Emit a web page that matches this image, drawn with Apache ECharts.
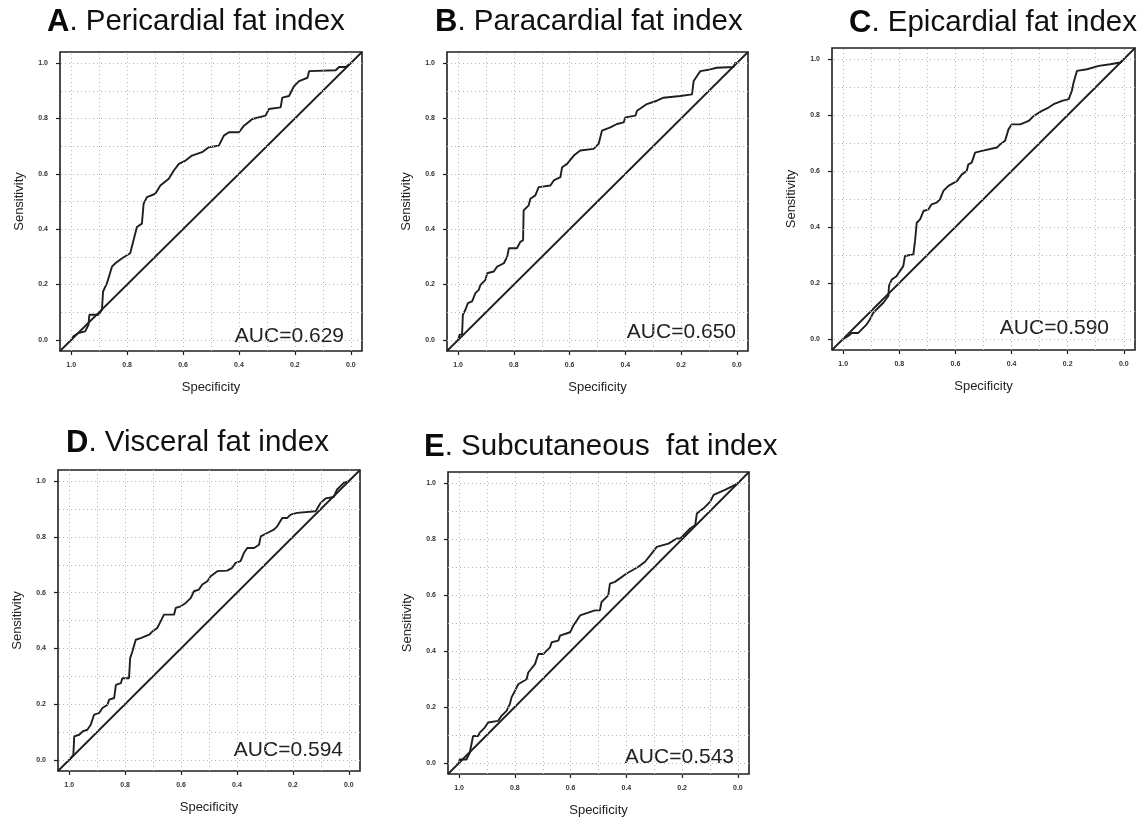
<!DOCTYPE html>
<html>
<head>
<meta charset="utf-8">
<script src="https://cdn.jsdelivr.net/npm/echarts@6/dist/echarts.min.js"></script>
<style>
html,body{margin:0;padding:0;background:#fff;}
#chart{width:1143px;height:822px;}
</style>
</head>
<body>
<div id="chart"></div>
<script>
// ---- data ----
const panelLetters = ['A', 'B', 'C', 'D', 'E'];
const panelTitles = ['Pericardial fat index', 'Paracardial fat index', 'Epicardial fat index', 'Visceral fat index', 'Subcutaneous  fat index'];
const aucLabels = ['AUC=0.629', 'AUC=0.650', 'AUC=0.590', 'AUC=0.594', 'AUC=0.543'];
const tickValues = [0, 0.2, 0.4, 0.6, 0.8, 1.0];
const gridValues = [0, 0.1, 0.2, 0.3, 0.4, 0.5, 0.6, 0.7, 0.8, 0.9, 1.0];
const diagSpec = [1.04, -0.04];
const diagSens = [-0.04, 1.04];

const specA = [1.0,0.992,0.974,0.95,0.938,0.935,0.902,0.89,0.886,0.872,0.854,0.842,0.818,0.789,0.777,0.765,0.747,0.741,0.729,0.699,0.681,0.651,0.633,0.615,0.591,0.568,0.532,0.508,0.472,0.454,0.436,0.400,0.382,0.352,0.305,0.293,0.251,0.245,0.221,0.203,0.185,0.155,0.149,0.054,0.042,0.018,0];
const sensA = [0,0.013,0.025,0.031,0.055,0.091,0.091,0.109,0.175,0.205,0.265,0.277,0.295,0.313,0.36,0.408,0.42,0.492,0.516,0.528,0.558,0.582,0.612,0.636,0.648,0.666,0.678,0.696,0.702,0.738,0.75,0.75,0.774,0.798,0.81,0.834,0.84,0.875,0.881,0.917,0.935,0.947,0.971,0.974,0.986,0.986,1];

const specB = [1.0,0.995,0.986,0.983,0.974,0.965,0.95,0.938,0.926,0.92,0.902,0.896,0.872,0.86,0.836,0.824,0.818,0.789,0.777,0.767,0.765,0.747,0.741,0.723,0.711,0.669,0.657,0.633,0.627,0.609,0.585,0.562,0.514,0.496,0.484,0.454,0.43,0.406,0.4,0.364,0.358,0.323,0.287,0.263,0.203,0.161,0.155,0.143,0.131,0.096,0.072,0.012,0.006,0];
const sensB = [0,0.019,0.019,0.091,0.109,0.133,0.139,0.169,0.181,0.199,0.217,0.241,0.247,0.265,0.277,0.301,0.331,0.331,0.354,0.36,0.468,0.486,0.51,0.522,0.552,0.558,0.576,0.588,0.624,0.636,0.666,0.684,0.69,0.708,0.756,0.768,0.78,0.786,0.804,0.81,0.828,0.852,0.864,0.875,0.881,0.887,0.935,0.953,0.971,0.977,0.983,0.986,1.0,1];

const specC = [1.0,0.982,0.97,0.946,0.935,0.917,0.905,0.893,0.875,0.857,0.839,0.837,0.827,0.81,0.798,0.786,0.78,0.75,0.744,0.738,0.726,0.714,0.696,0.685,0.667,0.655,0.643,0.625,0.595,0.577,0.56,0.554,0.542,0.53,0.506,0.452,0.44,0.423,0.411,0.399,0.369,0.339,0.321,0.292,0.268,0.25,0.22,0.196,0.185,0.179,0.167,0.131,0.089,0.048,0.012,0];
const sensC = [0,0.01,0.021,0.021,0.033,0.051,0.069,0.093,0.111,0.129,0.153,0.189,0.212,0.224,0.242,0.26,0.296,0.302,0.35,0.415,0.427,0.457,0.463,0.481,0.487,0.499,0.529,0.547,0.564,0.588,0.6,0.624,0.63,0.666,0.672,0.684,0.696,0.708,0.749,0.767,0.767,0.779,0.797,0.815,0.827,0.839,0.851,0.857,0.887,0.916,0.958,0.964,0.976,0.982,0.988,1];

const specD = [1.0,0.985,0.982,0.964,0.952,0.935,0.923,0.911,0.893,0.881,0.863,0.857,0.839,0.833,0.815,0.81,0.786,0.782,0.774,0.762,0.744,0.714,0.702,0.685,0.673,0.661,0.625,0.619,0.601,0.583,0.565,0.554,0.536,0.524,0.506,0.494,0.47,0.435,0.417,0.405,0.387,0.375,0.363,0.339,0.321,0.315,0.292,0.268,0.256,0.238,0.22,0.208,0.185,0.119,0.101,0.083,0.054,0.042,0.018,0];
const sensD = [0,0.018,0.084,0.09,0.102,0.108,0.126,0.162,0.168,0.186,0.198,0.216,0.222,0.269,0.275,0.293,0.293,0.365,0.389,0.431,0.437,0.449,0.461,0.473,0.497,0.521,0.521,0.545,0.551,0.563,0.581,0.605,0.611,0.629,0.641,0.659,0.677,0.679,0.689,0.707,0.713,0.743,0.76,0.76,0.772,0.802,0.814,0.826,0.838,0.868,0.868,0.88,0.886,0.892,0.922,0.938,0.943,0.97,0.994,1];

const specE = [1.0,0.998,0.974,0.962,0.95,0.932,0.926,0.908,0.896,0.86,0.848,0.83,0.818,0.812,0.8,0.788,0.758,0.752,0.728,0.716,0.698,0.686,0.674,0.668,0.644,0.638,0.602,0.59,0.566,0.513,0.495,0.489,0.465,0.459,0.441,0.399,0.357,0.333,0.309,0.291,0.249,0.219,0.207,0.171,0.153,0.147,0.123,0.099,0.087,0.046,0.01,0];
const sensE = [0,0.012,0.012,0.036,0.096,0.096,0.108,0.126,0.144,0.15,0.168,0.186,0.21,0.234,0.257,0.281,0.299,0.323,0.353,0.389,0.389,0.401,0.413,0.431,0.437,0.455,0.467,0.491,0.527,0.545,0.545,0.575,0.599,0.641,0.647,0.677,0.701,0.719,0.749,0.772,0.784,0.802,0.802,0.838,0.85,0.892,0.91,0.934,0.958,0.976,0.994,1];

const specAll = [specA, specB, specC, specD, specE];
const sensAll = [sensA, sensB, sensC, sensD, sensE];

// ---- layout (pixels) ----
const boxes = [
  {l: 60, t: 52, w: 302, h: 299},
  {l: 447, t: 52, w: 301, h: 299},
  {l: 832, t: 48, w: 303, h: 302},
  {l: 58, t: 470, w: 302, h: 301},
  {l: 448, t: 472, w: 301, h: 302}
];
const titlePos = [[47, 22], [435, 22], [849, 23], [66, 443], [424, 447]];
const aucPos = [[344, 336], [736, 332], [1109, 328], [343, 750], [734, 757]];

const ink = '#1b2020';
const grids = [], xAxes = [], yAxes = [], series = [], graphics = [];

boxes.forEach((b, i) => {
  grids.push({left: b.l, top: b.t, width: b.w, height: b.h, show: true,
    borderColor: ink, borderWidth: 1.6, backgroundColor: 'transparent', containLabel: false});
  const common = {
    gridIndex: i, type: 'value', min: -0.04, max: 1.04,
    splitLine: {show: false},
    axisLine: {show: false, onZero: false},
    axisTick: {show: true, customValues: tickValues, length: 4, lineStyle: {color: ink, width: 1.2}},
    axisLabel: {customValues: tickValues, formatter: v => v.toFixed(1), fontSize: 7,
      color: '#333', fontFamily: 'Liberation Sans', fontWeight: 'bold'},
    nameLocation: 'middle',
    nameTextStyle: {fontSize: 13, color: '#222', fontFamily: 'Liberation Sans'}
  };
  xAxes.push(Object.assign({}, common, {inverse: true, name: 'Specificity', nameGap: 30,
    axisLabel: Object.assign({}, common.axisLabel, {margin: 11})}));
  yAxes.push(Object.assign({}, common, {name: 'Sensitivity', nameGap: 34,
    axisLabel: Object.assign({}, common.axisLabel, {margin: 12})}));

  // diagonal + dotted grid
  series.push({
    type: 'line', xAxisIndex: i, yAxisIndex: i, z: 2,
    data: diagSpec.map((s, k) => [s, diagSens[k]]),
    showSymbol: false, silent: true, animation: false,
    lineStyle: {color: ink, width: 1.8},
    markLine: {
      silent: true, symbol: 'none', animation: false, label: {show: false},
      lineStyle: {type: [1, 3], color: '#b8b8b8', width: 1},
      data: gridValues.map(v => ({xAxis: v})).concat(gridValues.map(v => ({yAxis: v})))
    }
  });
  // ROC curve
  series.push({
    type: 'line', xAxisIndex: i, yAxisIndex: i, z: 3,
    data: specAll[i].map((s, k) => [s, sensAll[i][k]]),
    showSymbol: false, silent: true, animation: false,
    lineStyle: {color: ink, width: 1.9}
  });

  graphics.push({
    type: 'text', x: titlePos[i][0], y: titlePos[i][1],
    style: {
      text: '{b|' + panelLetters[i] + '}{n|. ' + panelTitles[i] + '}',
      verticalAlign: 'middle', align: 'left',
      rich: {
        b: {fontSize: 31, fontWeight: 'bold', fontFamily: 'Liberation Sans', fill: '#0a0a0a'},
        n: {fontSize: 29.5, fontFamily: 'Liberation Sans', fill: '#111'}
      }
    }
  });
  graphics.push({
    type: 'text', x: aucPos[i][0], y: aucPos[i][1],
    style: {text: aucLabels[i], fontSize: 21, fontFamily: 'Liberation Sans', fill: '#222',
      align: 'right', verticalAlign: 'middle'}
  });
});

const chart = echarts.init(document.getElementById('chart'), null, {renderer: 'canvas'});
chart.setOption({
  backgroundColor: '#fff',
  animation: false,
  grid: grids, xAxis: xAxes, yAxis: yAxes, series: series,
  graphic: graphics
});
</script>
</body>
</html>
